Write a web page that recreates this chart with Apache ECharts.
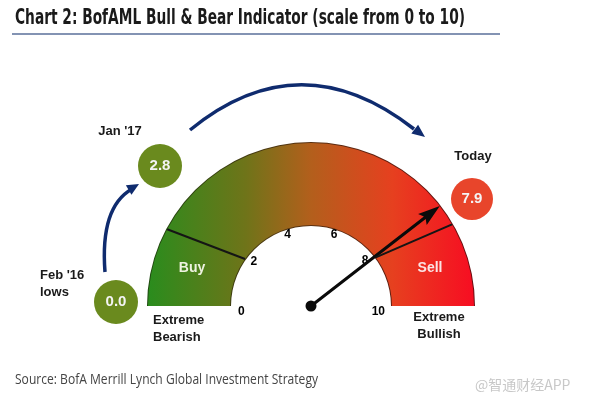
<!DOCTYPE html>
<html>
<head>
<meta charset="utf-8">
<script src="https://cdn.jsdelivr.net/npm/echarts@6/dist/echarts.min.js"></script>
<style>
    html, body { margin: 0; padding: 0; background: #fff; }
    #chart { width: 605px; height: 399px; }
</style>
</head>
<body>
<div id="chart"></div>
<script>
// data
var scaleMin = 0;
var scaleMax = 10;
var todayValue = 7.9;
var historyNames = ["Feb '16\nlows", "Jan '17", "Today"];
var historyValues = [0.0, 2.8, 7.9];
var zoneNames = ['Buy', 'Sell'];
// divider lines, as scale values at the outer / inner edge of the band
var buyDivider = [1.56, 1.97];
var sellDivider = [8.33, 7.95];
var extremeNames = ['Extreme\nBearish', 'Extreme\nBullish'];
var titleText = 'Chart 2: BofAML Bull & Bear Indicator (scale from 0 to 10)';
var sourceText = 'Source: BofA Merrill Lynch Global Investment Strategy';

window.onload = function () {
    drawGauge();
};

// horizontal squeeze so a text fits a given width
function fitScale(text, font, width) {
    var ctx = document.createElement('canvas').getContext('2d');
    ctx.font = font;
    return width / ctx.measureText(text).width;
}

function drawGauge() {
    var chart = echarts.init(document.getElementById('chart'));
    var cx = 311, cy = 306, R = 163, r0 = 81;

    // point on the dial for a scale value at a radius
    function dial(v, rad) {
        var t = Math.PI * (1 - (v - scaleMin) / (scaleMax - scaleMin));
        return [cx + rad * Math.cos(t), cy - rad * Math.sin(t)];
    }

    var bandColor = new echarts.graphic.LinearGradient(0, 0, 1, 0, [
        {offset: 0, color: '#2a8c1d'},
        {offset: 0.3, color: '#6f7419'},
        {offset: 0.5, color: '#b35f1c'},
        {offset: 0.75, color: '#e6401f'},
        {offset: 1, color: '#f70d22'}
    ]);
    var edgeColor = new echarts.graphic.LinearGradient(0, 0, 1, 0, [
        {offset: 0, color: '#1f4a10'},
        {offset: 0.5, color: '#5a3010'},
        {offset: 1, color: '#6a0c10'}
    ]);

    function arrowHead(tip, from, len, wid, color) {
        var dx = tip[0] - from[0], dy = tip[1] - from[1];
        var d = Math.sqrt(dx * dx + dy * dy);
        var ux = dx / d, uy = dy / d;
        var bx = tip[0] - ux * len, by = tip[1] - uy * len;
        return {
            type: 'polygon', z: 50,
            shape: {points: [tip, [bx - uy * wid / 2, by + ux * wid / 2], [bx + uy * wid / 2, by - ux * wid / 2]]},
            style: {fill: color}
        };
    }

    function bubble(x, y, rad, color, text) {
        return {
            type: 'group', z: 50,
            children: [
                {type: 'circle', shape: {cx: x, cy: y, r: rad}, style: {fill: color}},
                {type: 'text', x: x, y: y, style: {
                    text: text, fill: '#f4f4f4', font: 'bold 15px "Liberation Sans", Arial',
                    align: 'center', verticalAlign: 'middle'}}
            ]
        };
    }

    function label(x, y, text, align, size, color) {
        return {
            type: 'text', x: x, y: y, z: 60,
            style: {
                text: text, fill: color || '#1a1a1a', font: 'bold ' + (size || 13) + 'px "Liberation Sans", Arial',
                align: align || 'left', verticalAlign: 'middle', lineHeight: 17
            }
        };
    }

    var b0 = dial(buyDivider[0], R), b1 = dial(buyDivider[1], r0);
    var s0 = dial(sellDivider[0], R), s1 = dial(sellDivider[1], r0);
    var navy = '#0f2b6e';
    var titleFont = 'bold 21px "DejaVu Sans Condensed", "DejaVu Sans", sans-serif';
    var sourceFont = '14px "Open Sans", sans-serif';

    var option = {
        animation: false,
        graphic: [
            {type: 'text', x: 15, y: 19, scaleX: fitScale(titleText, titleFont, 450), style: {
                text: titleText, fill: '#1a1a1a', font: titleFont, verticalAlign: 'middle'}},
            {type: 'line', shape: {x1: 12, y1: 34, x2: 500, y2: 34}, style: {stroke: '#8393b3', lineWidth: 2}},
            // dividers
            {type: 'line', z: 40, shape: {x1: b0[0], y1: b0[1], x2: b1[0], y2: b1[1]}, style: {stroke: '#151515', lineWidth: 2}},
            {type: 'line', z: 40, shape: {x1: s0[0], y1: s0[1], x2: s1[0], y2: s1[1]}, style: {stroke: '#151515', lineWidth: 2}},
            label(192, 268, zoneNames[0], 'center', 14, '#eef2e0'),
            label(430, 268, zoneNames[1], 'center', 14, '#fbe4e4'),
            // history bubbles
            bubble(116, 302, 22, '#6a8a1e', historyValues[0].toFixed(1)),
            bubble(160, 166, 22, '#6a8a1e', historyValues[1].toFixed(1)),
            bubble(472, 199, 21, '#e8452b', historyValues[2].toFixed(1)),
            label(40, 284, historyNames[0], 'left', 13),
            label(120, 131, historyNames[1], 'center', 13),
            label(473, 156, historyNames[2], 'center', 13),
            label(153, 329, extremeNames[0], 'left', 13),
            label(439, 326, extremeNames[1], 'center', 13),
            // arrows
            {type: 'bezierCurve', z: 50, shape: {x1: 105, y1: 272, x2: 132, y2: 189, cpx1: 100, cpy1: 207},
                style: {stroke: navy, lineWidth: 3.5, fill: null}},
            arrowHead([139, 184], [100, 207], 12, 11, navy),
            {type: 'bezierCurve', z: 50, shape: {x1: 190, y1: 130, x2: 414, y2: 129, cpx1: 300, cpy1: 40},
                style: {stroke: navy, lineWidth: 3.5, fill: null}},
            arrowHead([425, 137], [300, 40], 13, 11, navy),
            // source and watermark
            {type: 'text', x: 15, y: 380, scaleX: fitScale(sourceText, sourceFont, 303), style: {
                text: sourceText, fill: '#444', font: sourceFont, verticalAlign: 'middle'}},
            {type: 'text', x: 475, y: 385, style: {
                text: '@智通财经APP', fill: '#c8c8c8', font: '14px "Noto Sans CJK SC", sans-serif',
                verticalAlign: 'middle'}}
        ],
        series: [
            {
                // thin dark edge behind the band
                type: 'gauge',
                center: [cx, cy],
                radius: R + 1,
                startAngle: 180,
                endAngle: 0,
                min: scaleMin,
                max: scaleMax,
                z: 1,
                axisLine: {lineStyle: {width: R - r0 + 2, color: [[1, edgeColor]]}},
                axisTick: {show: false},
                splitLine: {show: false},
                axisLabel: {show: false},
                pointer: {show: false},
                anchor: {show: false},
                title: {show: false},
                detail: {show: false},
                data: []
            },
            {
                type: 'gauge',
                center: [cx, cy],
                radius: R,
                startAngle: 180,
                endAngle: 0,
                min: scaleMin,
                max: scaleMax,
                splitNumber: 5,
                z: 3,
                axisLine: {lineStyle: {width: R - r0, color: [[1, bandColor]]}},
                axisTick: {show: false},
                splitLine: {show: false, length: 0, distance: 0},
                axisLabel: {
                    distance: R - r0,
                    color: '#333',
                    fontSize: 12,
                    fontWeight: 'bold',
                    fontFamily: '"Liberation Sans", Arial',
                    formatter: function (v) {
                        return '{t' + v + '|' + v + '}';
                    },
                    rich: {
                        t0: {padding: [12, 0, 0, 8]},
                        t2: {padding: [7, 0, 0, 5]},
                        t4: {padding: [0, 0, 0, 3]},
                        t6: {padding: [0, 4, 0, 0]},
                        t8: {padding: [4, 8, 0, 0]},
                        t10: {padding: [12, 7, 0, 0]}
                    }
                },
                pointer: {
                    icon: 'path://M0,22 L7,0 L14,22 L8.5,19 L8.5,163 L5.5,163 L5.5,19 Z',
                    width: 14,
                    length: R,
                    offsetCenter: [0, 0],
                    itemStyle: {color: '#0a0a0a'}
                },
                anchor: {show: true, showAbove: true, size: 11, itemStyle: {color: '#0a0a0a'}},
                title: {show: false},
                detail: {show: false},
                data: [{value: todayValue}]
            }
        ]
    };
    chart.setOption(option);
}
</script>
</body>
</html>
